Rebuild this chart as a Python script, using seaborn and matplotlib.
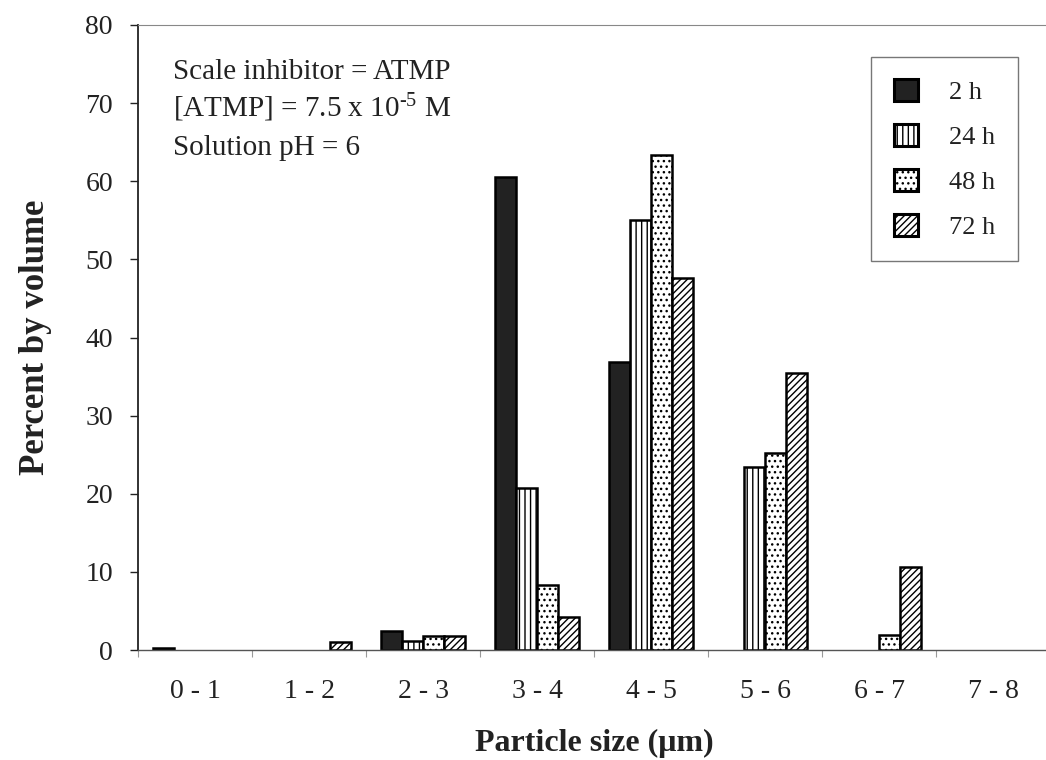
import matplotlib
matplotlib.use("Agg")
import matplotlib.pyplot as plt
from matplotlib.patches import Patch
import numpy as np
import pandas as pd
import seaborn as sns

# ---- data ----
size_labels = ["0 - 1", "1 - 2", "2 - 3", "3 - 4", "4 - 5", "5 - 6", "6 - 7", "7 - 8"]
time_labels = ["2 h", "24 h", "48 h", "72 h"]
v_2h = [0.3, 0.0, 2.4, 60.5, 36.9, 0.0, 0.0, 0.0]
v_24h = [0.0, 0.0, 1.1, 20.7, 55.0, 23.4, 0.0, 0.0]
v_48h = [0.0, 0.0, 1.8, 8.3, 63.3, 25.2, 1.9, 0.0]
v_72h = [0.0, 1.0, 1.8, 4.2, 47.6, 35.5, 10.6, 0.0]
y_ticks = [0, 10, 20, 30, 40, 50, 60, 70, 80]
notes = ["Scale inhibitor = ATMP",
         "[ATMP] = 7.5 x 10$^{\\mathregular{\u2010}5}$ M",
         "Solution pH = 6"]

series = {"2 h": v_2h, "24 h": v_24h, "48 h": v_48h, "72 h": v_72h}
rows = []
for t in time_labels:
    for s, v in zip(size_labels, series[t]):
        rows.append({"size": s, "time": t, "pct": v})
df = pd.DataFrame(rows)

# ---- style ----
sns.set_style("ticks")
plt.rcParams["font.family"] = ["Liberation Serif", "DejaVu Serif"]
plt.rcParams["mathtext.default"] = "regular"
plt.rcParams["hatch.linewidth"] = 1.0

fills = {"2 h": "#222222", "24 h": "white", "48 h": "white", "72 h": "white"}
hatches = {"2 h": "", "24 h": "|||", "48 h": "...", "72 h": "/////"}

fig = plt.figure(figsize=(10.46, 7.6), dpi=100)
ax = fig.add_axes([138 / 1046, 110 / 760, (1050 - 138) / 1046, 625 / 760])

sns.barplot(data=df, x="size", y="pct", hue="time", order=size_labels,
            hue_order=time_labels, palette=fills, saturation=1,
            edgecolor="black", linewidth=1.8, width=0.74, legend=False, ax=ax)

for cont, t in zip(ax.containers, time_labels):
    for p in cont.patches:
        p.set_hatch(hatches[t])
        if p.get_height() == 0:
            p.set_linewidth(0)
            p.set_visible(False)

ax.set_xlim(-0.5, 7.5)
ax.set_ylim(0, 80)
ax.set_yticks(y_ticks)
ax.tick_params(axis="y", labelsize=20, length=6, width=1, direction="out",
               pad=12, colors="#222222")
ax.set_xticks(range(len(size_labels)))
ax.set_xticklabels(size_labels)
ax.tick_params(axis="x", which="major", length=0, labelsize=20, pad=21,
               colors="#222222")
ax.set_xticks(np.arange(-0.5, len(size_labels)), minor=True)
ax.tick_params(axis="x", which="minor", length=5, width=0.8, color="#999999",
               direction="out")

ax.spines["right"].set_visible(False)
ax.spines["top"].set_color("#888888")
ax.spines["top"].set_linewidth(0.8)
ax.spines["left"].set_color("#222222")
ax.spines["left"].set_linewidth(1.3)
ax.spines["bottom"].set_color("#555555")
ax.spines["bottom"].set_linewidth(1.0)

ax.set_xlabel("Particle size (\u03bcm)", fontsize=23, fontweight="bold",
              labelpad=18, color="#222222")
ax.set_ylabel("Percent by volume", fontsize=25, fontweight="bold",
              labelpad=24, color="#222222")

# annotations
for i, line in enumerate(notes):
    fig.text(173 / 1046, 1 - (79 + 38 * i) / 760, line, fontsize=21,
             va="baseline", ha="left", color="#222222")

# legend
handles = [Patch(facecolor=fills[t], edgecolor="black", hatch=hatches[t],
                 linewidth=2.2, label=t) for t in time_labels]
leg = ax.legend(handles=handles, loc="upper right",
                bbox_to_anchor=(1018 / 1046, 1 - 57 / 760),
                bbox_transform=fig.transFigure, borderaxespad=0,
                fontsize=19, frameon=True, fancybox=False,
                handlelength=0.9, handleheight=0.9, handletextpad=1.2,
                labelspacing=0.75, borderpad=0.85)
leg.get_frame().set_edgecolor("#555555")
leg.get_frame().set_linewidth(1.0)
for txt in leg.get_texts():
    txt.set_color("#222222")

fig.savefig("out.png", dpi=100)
